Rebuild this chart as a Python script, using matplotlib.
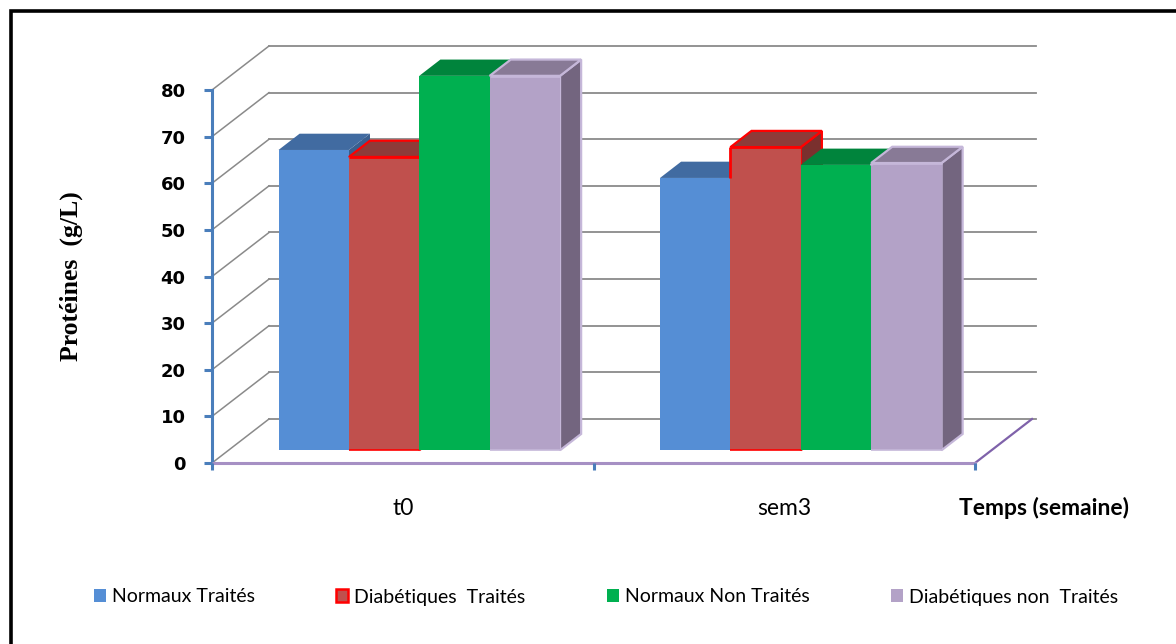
import matplotlib
matplotlib.use("Agg")
import matplotlib.pyplot as plt
from matplotlib.patches import Polygon, Rectangle
from matplotlib.lines import Line2D

# ---- data -------------------------------------------------------------
categories = ["t0", "sem3"]
series_names = ["Normaux Traités", "Diabétiques  Traités",
                "Normaux Non Traités", "Diabétiques non  Traités"]
normaux_traites = [64.4, 58.4]
diabetiques_traites = [62.9, 65.0]
normaux_non_traites = [80.3, 61.2]
diabetiques_non_traites = [80.3, 61.6]
y_ticks = [0, 10, 20, 30, 40, 50, 60, 70, 80]

series_values = [normaux_traites, diabetiques_traites,
                 normaux_non_traites, diabetiques_non_traites]

# face colours per series: (front, top, side, edge)
styles = [
    ("#558ED5", "#416BA1", "#3A5F8F", None),
    ("#C0504D", "#8E3B39", "#7A302E", "#FF0000"),
    ("#00B050", "#00843C", "#007A35", None),
    ("#B3A2C7", "#887A96", "#73657F", "#C5B7D9"),
]

# ---- figure & axes ----------------------------------------------------
W, H = 1176, 644
fig = plt.figure(figsize=(W / 100, H / 100), dpi=100)
fig.patch.set_facecolor("white")

x0_px, x1_px = 212, 975
ytop_px, ybot_px = 90, 463
ax = fig.add_axes([x0_px / W, (H - ybot_px) / H,
                   (x1_px - x0_px) / W, (ybot_px - ytop_px) / H])
ax.set_xlim(0, len(categories))
ax.set_ylim(0, 80)
ax.patch.set_alpha(0)

# oblique depth: full depth moves 57 px right and 44 px up
px_per_x = (x1_px - x0_px) / len(categories)
px_per_y = (ybot_px - ytop_px) / 80
DX = 57 / px_per_x
DY = 44 / px_per_y


def proj(x, v, d):
    return (x + d * DX, v + d * DY)


grid_col = "#8A8A8A"
for v in y_ticks:
    # back wall gridline
    a = proj(0, v, 1)
    b = proj(len(categories), v, 1)
    ax.add_line(Line2D([a[0], b[0] + 0.01], [a[1], b[1]], color=grid_col,
                       lw=1.3, zorder=0.5, clip_on=False))
    # side wall diagonal
    c = proj(0, v, 0)
    ax.add_line(Line2D([c[0], a[0]], [c[1], a[1]], color=grid_col,
                       lw=1.1, zorder=0.5, clip_on=False))

# floor right edge
f0 = proj(len(categories), 0, 0)
f1 = proj(len(categories), 0, 1)
ax.add_line(Line2D([f0[0], f1[0]], [f0[1], f1[1]], color="#7F62AA",
                   lw=1.6, zorder=0.6, clip_on=False))

# ---- 3D bars ------------------------------------------------------------
bar_w = 0.1845
d_front, d_back = 0.29, 0.66
n_series = len(series_values)

for ci in range(len(categories)):
    start = ci + 0.5 - n_series * bar_w / 2
    for si in range(n_series):
        h = series_values[si][ci]
        front_c, top_c, side_c, edge_c = styles[si]
        xl = start + si * bar_w
        xr = xl + bar_w
        z = 2 + ci * 10 + si
        ec = edge_c if edge_c else "none"
        lw = 1.6 if edge_c else 0
        side = [proj(xr, 0, d_front), proj(xr, 0, d_back),
                proj(xr, h, d_back), proj(xr, h, d_front)]
        top = [proj(xl, h, d_front), proj(xr, h, d_front),
               proj(xr, h, d_back), proj(xl, h, d_back)]
        front = [proj(xl, 0, d_front), proj(xr, 0, d_front),
                 proj(xr, h, d_front), proj(xl, h, d_front)]
        for poly, col in ((side, side_c), (top, top_c)):
            ax.add_patch(Polygon(poly, closed=True, facecolor=col,
                                 edgecolor=ec, lw=lw, joinstyle="miter",
                                 zorder=z, clip_on=False))
        ax.add_patch(Polygon(front, closed=True, facecolor=front_c,
                             edgecolor="none", zorder=z, clip_on=False))
        if edge_c:
            # outline along the top and bottom of the front face
            segs = [((front[3], front[2]), 2.0), ((front[0], front[1]), 1.2)]
            # left edge shows only above the neighbouring bar
            left_h = series_values[si - 1][ci] if si > 0 else 0
            if h > left_h:
                segs.append(((proj(xl, left_h, d_front), front[3]), 2.0))
            for (p, q), w in segs:
                ax.add_line(Line2D([p[0], q[0]], [p[1], q[1]], color=edge_c,
                                   lw=w, zorder=z + 0.5, clip_on=False,
                                   solid_capstyle="butt"))

# ---- axes styling -----------------------------------------------------
axis_blue = "#4A7EBB"
for s in ("top", "right"):
    ax.spines[s].set_visible(False)
ax.spines["left"].set_color(axis_blue)
ax.spines["left"].set_linewidth(2.2)
ax.spines["bottom"].set_color("#A690C4")
ax.spines["bottom"].set_linewidth(2.2)
ax.spines["left"].set_zorder(1)
ax.spines["bottom"].set_zorder(1)

ax.set_yticks(y_ticks)
ax.set_yticklabels([str(t) for t in y_ticks])
ax.tick_params(axis="y", direction="out", length=6, width=2.2,
               color=axis_blue, pad=13, labelsize=13)
for lab in ax.get_yticklabels():
    lab.set_fontweight("bold")
    lab.set_fontfamily("DejaVu Sans")

ax.set_xticks(range(len(categories) + 1))
ax.set_xticklabels([""] * (len(categories) + 1))
ax.tick_params(axis="x", which="major", direction="out", length=5,
               width=2.2, color=axis_blue)
ax.set_xticks([i + 0.5 for i in range(len(categories))], minor=True)
ax.set_xticklabels(categories, minor=True, fontsize=16.5, fontfamily="Lato")
ax.tick_params(axis="x", which="minor", length=0, pad=25)

ax.set_ylabel("Protéines  (g/L)", fontsize=18.5, fontweight="bold",
              fontfamily="Liberation Serif", labelpad=56)

fig.text(959 / W, 1 - 508 / H, "Temps (semaine)", fontsize=16.5,
         fontweight="bold", fontfamily="Lato", ha="left", va="center")

# ---- legend -------------------------------------------------------------
handles = []
for (front_c, top_c, side_c, edge_c) in styles:
    if edge_c == "#FF0000":
        handles.append(Rectangle((0, 0), 1, 1, facecolor=front_c,
                                 edgecolor=edge_c, lw=1.8))
    else:
        handles.append(Rectangle((0, 0), 1, 1, facecolor=front_c,
                                 edgecolor="none"))
leg = fig.legend(handles, series_names, loc="center",
                 bbox_to_anchor=(606 / W, 1 - 597 / H), ncol=4,
                 frameon=False, prop={"family": "Lato", "size": 14},
                 handlelength=0.62, handleheight=0.62, handletextpad=0.3,
                 columnspacing=4.2, borderpad=0)

# ---- outer frame (top and left edges in view) --------------------------
fig.patches.append(Rectangle((11 / W, -0.2), 1.2, 1.2 - 11 / H,
                             transform=fig.transFigure, fill=False,
                             edgecolor="black", lw=2.6, zorder=10))

fig.savefig("out.png", dpi=100)
